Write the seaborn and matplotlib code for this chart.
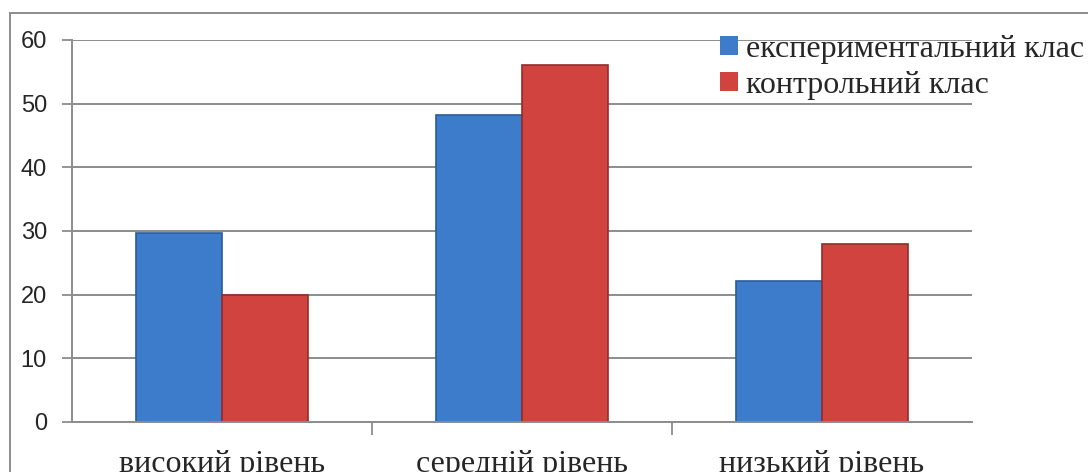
import pandas as pd
import matplotlib
matplotlib.use("Agg")
import matplotlib.pyplot as plt
import seaborn as sns
from matplotlib.patches import Rectangle

# Дані з діаграми
levels = ["високий рівень", "середній рівень", "низький рівень"]
groups = ["експериментальний клас", "контрольний клас"]
exp_values = [29.7, 48.2, 22.1]
ctrl_values = [20, 56, 28]

df = pd.DataFrame({
    "Рівень": levels * 2,
    "Клас": [groups[0]] * 3 + [groups[1]] * 3,
    "Значення": exp_values + ctrl_values,
})

sns.set_style("white")
plt.rcParams["font.family"] = ["Liberation Sans", "DejaVu Sans"]

fig = plt.figure(figsize=(10.88, 4.72), dpi=100)
ax = fig.add_axes([72 / 1088, 1 - 422 / 472, 900 / 1088, 382 / 472])

sns.barplot(
    data=df,
    x="Рівень",
    y="Значення",
    hue="Клас",
    order=levels,
    hue_order=groups,
    palette=["#3D7BCB", "#D1433F"],
    saturation=1,
    width=0.574,
    gap=0,
    linewidth=0,
    ax=ax,
)
# темніший контур, щоб трохи нагадати об'ємні стовпці
for bar, col in zip(ax.patches, ["#2A5B9A"] * 3 + ["#962C29"] * 3):
    bar.set_edgecolor(col)
    bar.set_linewidth(1.2)

ax.set_ylim(0, 60)
ax.set_xlim(-0.5, 2.5)
ax.set_yticks(range(0, 61, 10))
ax.yaxis.grid(True, color="#8C8C8C", linewidth=1.4)
ax.set_axisbelow(True)
ax.set_xlabel("")
ax.set_ylabel("")

for side in ["top", "right"]:
    ax.spines[side].set_visible(False)
for side in ["left", "bottom"]:
    ax.spines[side].set_color("#8C8C8C")
    ax.spines[side].set_linewidth(1.4)

# мітки категорій, риски між категоріями
ax.set_xticks([0.5, 1.5], minor=True)
ax.tick_params(axis="x", which="minor", length=9, width=1.3, color="#8C8C8C", direction="out")
ax.tick_params(axis="x", which="major", length=0, pad=20)
ax.tick_params(axis="y", length=7, width=1.3, color="#8C8C8C", direction="out", pad=11)
plt.setp(ax.get_xticklabels(), family=["Liberation Serif"], fontsize=23)
plt.setp(ax.get_yticklabels(), fontsize=17)
ax.xaxis.set_ticks_position("bottom")
ax.yaxis.set_ticks_position("left")

handles, labels = ax.get_legend_handles_labels()
ax.legend(
    handles,
    labels,
    loc="upper left",
    bbox_to_anchor=(720 / 1088, 1 - 35 / 472),
    bbox_transform=fig.transFigure,
    frameon=False,
    prop={"family": "Liberation Serif", "size": 23},
    handlelength=0.55,
    handleheight=0.55,
    handletextpad=0.25,
    labelspacing=0.22,
    borderpad=0,
    borderaxespad=0,
)

# рамка діаграми
fig.patches.append(Rectangle(
    (9.5 / 1088, -0.2), 1.2, 1 - 13 / 472 + 0.2,
    transform=fig.transFigure, fill=False, edgecolor="#8C8C8C", linewidth=1.4,
))

fig.savefig("out.png", dpi=100)
